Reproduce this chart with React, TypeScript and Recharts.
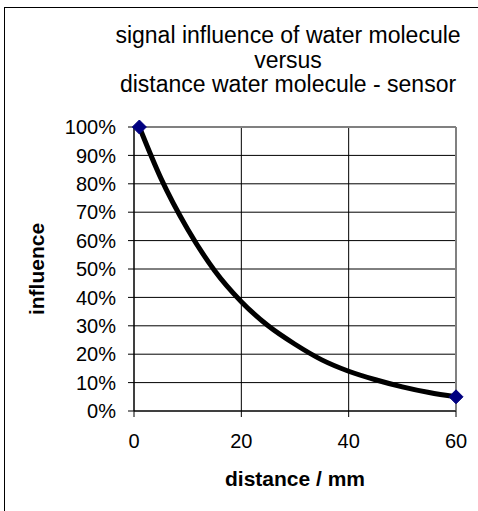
import { LineChart, Line, XAxis, YAxis, CartesianGrid, ReferenceLine, Label } from 'recharts';

// distance in mm, influence as fraction
const distance = [1, 5, 10, 15, 20, 25, 30, 35, 40, 45, 50, 55, 60];
const influence = [1.0, 0.82, 0.64, 0.495, 0.385, 0.30, 0.235, 0.18, 0.14, 0.11, 0.085, 0.065, 0.05];
const xTicks = [0, 20, 40, 60];
const yTicks = [0, 0.1, 0.2, 0.3, 0.4, 0.5, 0.6, 0.7, 0.8, 0.9, 1];
const titleLines = ['signal influence of water molecule', 'versus', 'distance water molecule - sensor'];

const data = distance.map((d, i) => ({ d, v: influence[i] }));

const font = '"Liberation Sans", Arial, sans-serif';

const Diamond = (props: any) => {
  const { cx, cy, index } = props;
  if (index !== 0 && index !== data.length - 1) return <g key={index} />;
  const r = 7;
  return (
    <path
      key={index}
      d={`M${cx},${cy - r} L${cx + r},${cy} L${cx},${cy + r} L${cx - r},${cy} Z`}
      fill="#000080"
      stroke="#000080"
    />
  );
};

export default function App() {
  return (
    <div style={{ position: 'absolute', left: 0, top: 0, width: 478, height: 511, background: '#fff', fontFamily: font }}>
      <div style={{ position: 'absolute', left: 4, top: 7, width: 474, height: 504, borderLeft: '1.5px solid #000', borderTop: '1.5px solid #000' }} />
      {titleLines.map((t, i) => (
        <div
          key={i}
          style={{ position: 'absolute', left: 88, width: 400, top: 22 + i * 24.5, textAlign: 'center', fontSize: 23, lineHeight: '26px', color: '#000' }}
        >
          {t}
        </div>
      ))}
      <div style={{ position: 'absolute', left: 0, top: 0 }}>
        <LineChart width={478} height={511} data={data} margin={{ top: 127, right: 22, left: 0, bottom: 0 }}>
          <CartesianGrid stroke="#000" strokeWidth={1} horizontalValues={yTicks} verticalValues={xTicks} />
          <XAxis
            dataKey="d"
            type="number"
            domain={[0, 60]}
            ticks={xTicks}
            height={100}
            stroke="#000"
            tickSize={6}
            tickMargin={17}
            tick={{ fill: '#000', fontSize: 20, fontFamily: font }}
          >
            <Label value="distance / mm" position="insideTop" offset={60} style={{ fontWeight: 'bold', fontSize: 21, fill: '#000', fontFamily: font }} />
          </XAxis>
          <YAxis
            type="number"
            domain={[0, 1]}
            ticks={yTicks}
            width={134}
            stroke="#000"
            tickSize={6}
            tickMargin={12}
            tickFormatter={(v: number) => `${Math.round(v * 100)}%`}
            tick={{ fill: '#000', fontSize: 20, fontFamily: font }}
          >
            <Label value="influence" angle={-90} position="insideLeft" offset={37} style={{ fontWeight: 'bold', fontSize: 21, fill: '#000', fontFamily: font, textAnchor: 'middle' }} />
          </YAxis>
          <ReferenceLine y={1} stroke="#808080" strokeWidth={2} />
          <ReferenceLine x={60} stroke="#808080" strokeWidth={2} />
          <Line
            type="monotone"
            dataKey="v"
            stroke="#000"
            strokeWidth={5}
            dot={Diamond}
            activeDot={false}
            isAnimationActive={false}
          />
        </LineChart>
      </div>
    </div>
  );
}
